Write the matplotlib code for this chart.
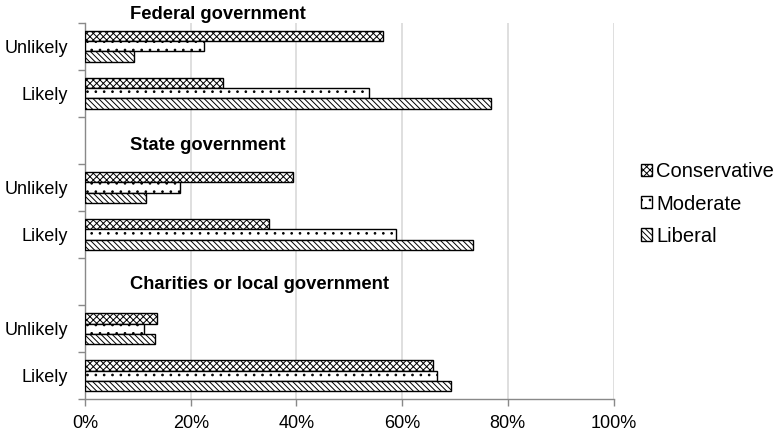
import matplotlib
matplotlib.use("Agg")
import matplotlib.pyplot as plt
import numpy as np

plt.rcParams['font.family'] = ['Liberation Sans', 'DejaVu Sans']
plt.rcParams['hatch.linewidth'] = 0.7

# Data (percent)
groups = ["Federal government", "State government", "Charities or local government"]
responses = ["Unlikely", "Likely"]
series = ["Conservative", "Moderate", "Liberal"]
conservative = [56.3, 26.1, 39.4, 34.9, 13.6, 65.9]
moderate = [22.5, 53.7, 18.0, 58.8, 11.2, 66.6]
liberal = [9.3, 76.8, 11.6, 73.5, 13.3, 69.3]
x_ticks = [0, 20, 40, 60, 80, 100]

fig = plt.figure(figsize=(7.78, 4.36), dpi=100)
ax = fig.add_axes([85/778, 1-399.3/436, (613.5-85)/778, (399.3-22.7)/436])

# slot positions: each group = header slot + Unlikely + Likely (first header sits above axis)
slots = np.array([0, 1, 3, 4, 6, 7], dtype=float)
bh = 0.22
hatches = ['xxxxx', '..', '\\\\\\\\\\\\']
vals = [conservative, moderate, liberal]
offsets = [-bh, 0, bh]
for name, v, off, h in zip(series, vals, offsets, hatches):
    ax.barh(slots + off, v, height=bh, color='white', edgecolor='black',
            linewidth=1.0, hatch=h, label=name, zorder=3)

ax.set_ylim(7.5, -0.5)
ax.set_xlim(0, 100)
ax.set_yticks(slots)
ax.set_yticklabels(responses * 3, fontsize=13)
ax.set_yticks(np.arange(-0.5, 8.0, 1.0), minor=True)
ax.tick_params(axis='y', which='major', length=0, pad=12)
ax.tick_params(axis='y', which='minor', length=5, width=1, color='#898989', direction='out')
ax.set_xticks(x_ticks)
ax.set_xticklabels([f"{t}%" for t in x_ticks], fontsize=13)
ax.tick_params(axis='x', length=5, width=1, color='#898989', direction='out', pad=6)
ax.xaxis.grid(True, color='#d9d9d9', linewidth=1.2, zorder=0)
ax.set_axisbelow(True)
for s in ['top', 'right']:
    ax.spines[s].set_visible(False)
for s in ['left', 'bottom']:
    ax.spines[s].set_color('#898989')
    ax.spines[s].set_linewidth(1.0)

header_y = [-0.579, 2.204, 5.151]
for g, y in zip(groups, header_y):
    ax.text(8.5, y, g, fontsize=13.2, fontweight='bold', ha='left', va='baseline',
            clip_on=False)

leg = fig.legend(loc='center left', bbox_to_anchor=(641/778, 1-204/436), frameon=False,
                 fontsize=14.5, handlelength=0.55, handleheight=0.55, handletextpad=0.2,
                 labelspacing=0.65, borderaxespad=0, borderpad=0)

fig.savefig('out.png', dpi=100)
